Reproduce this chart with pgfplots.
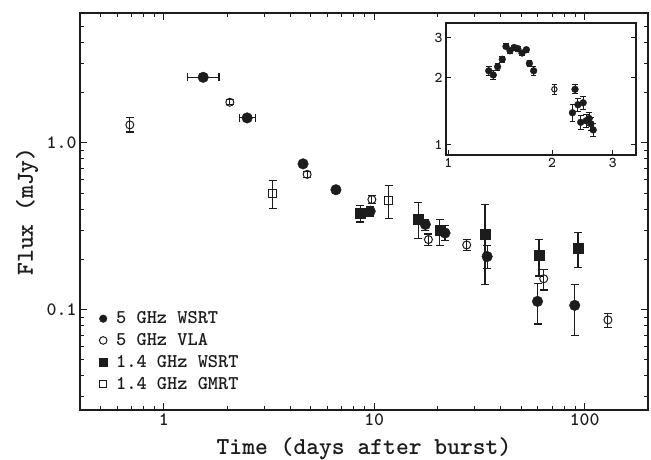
\documentclass[border=0pt]{standalone}
\usepackage{pgfplots}
\pgfplotsset{compat=1.18}
\definecolor{ink}{HTML}{1C1C1C}
\begin{document}
\begin{tikzpicture}
\useasboundingbox (-80bp,-50bp) rectangle (571bp,410bp);
\begin{axis}[
  name=main, at={(0,0)}, anchor=south west,
  xmode=log, ymode=log, scale only axis, width=568bp, height=397bp,
  xmin=0.4, xmax=200, ymin=0.025, ymax=6,
  xtick={1,10,100}, xticklabels={1,10,100},
  ytick={0.1,1}, yticklabels={0.1,1.0},
  minor xtick={0.4,0.5,0.6,0.7,0.8,0.9,2,3,4,5,6,7,8,9,20,30,40,50,60,70,80,90,200},
  minor ytick={0.03,0.04,0.05,0.06,0.07,0.08,0.09,0.2,0.3,0.4,0.5,0.6,0.7,0.8,0.9,2,3,4,5,6},
  tick align=inside, major tick length=7bp, minor tick length=4bp,
  axis line style={line width=1.6bp, ink},
  every tick/.style={line width=1bp, ink},
  ticklabel style={font=\fontsize{19}{19}\selectfont\ttfamily\bfseries, text=ink},
  xlabel={Time (days after burst)}, ylabel={Flux (mJy)},
  label style={font=\fontsize{24.5}{28}\selectfont\ttfamily\bfseries, text=ink},
  xlabel style={at={(axis description cs:0.5,0)}, anchor=base, yshift=-44bp},
  ylabel style={at={(axis description cs:0,0.5)}, anchor=base, yshift=47bp},
  legend image code/.code={\draw[#1, mark size=3.8bp] plot coordinates {(0bp,0bp)}; \path[draw=none,fill=none] (-4bp,0bp) rectangle (11bp,0.1bp);},
  legend style={draw=none, fill=none, at={(axis description cs:0,0)}, anchor=south west,
    xshift=19bp, yshift=17bp, font=\fontsize{19.5}{21.7}\selectfont\ttfamily\bfseries, text=ink,
    row sep=4.2bp, inner sep=0pt},
  legend cell align=left,
  error bars/error bar style={line width=1.1bp, ink},
  error bars/error mark options={rotate=90, line width=1.1bp, ink, mark size=4bp},
]
\addlegendimage{only marks, mark=*, ink, mark options={fill=ink}}
\addlegendentry{5 GHz WSRT}
\addlegendimage{only marks, mark=o, ink, line width=1bp}
\addlegendentry{5 GHz VLA}
\addlegendimage{only marks, mark=square*, ink, mark options={fill=ink}}
\addlegendentry{1.4 GHz WSRT}
\addlegendimage{only marks, mark=square, ink, line width=1bp}
\addlegendentry{1.4 GHz GMRT}

% 1.4 GHz WSRT
\addplot[forget plot, only marks, mark=square*, mark size=5bp, ink, mark options={fill=ink},
  error bars/.cd, y dir=both, y explicit] coordinates {
  (8.58,0.380) += (0,0.041) -= (0,0.045)
  (16.2,0.350) += (0,0.087) -= (0,0.084)
  (20.5,0.298) += (0,0.049) -= (0,0.056)
  (33.6,0.284) += (0,0.142) -= (0,0.143)
  (60.7,0.211) += (0,0.051) -= (0,0.052)
  (93.0,0.234) += (0,0.057) -= (0,0.055)
};
% 1.4 GHz GMRT
\addplot[forget plot, only marks, mark=square, mark size=4bp, ink, line width=1bp,
  error bars/.cd, y dir=both, y explicit] coordinates {
  (3.29,0.500) += (0,0.094) -= (0,0.098)
  (11.7,0.451) += (0,0.104) -= (0,0.101)
};
% 5 GHz VLA
\addplot[forget plot, only marks, mark=o, mark size=4bp, ink, line width=1bp,
  error bars/.cd, y dir=both, y explicit] coordinates {
  (0.69,1.28) += (0,0.13) -= (0,0.12)
  (2.06,1.75) += (0,0.06) -= (0,0.06)
  (4.8,0.647) += (0,0.03) -= (0,0.03)
  (9.75,0.457) += (0,0.026) -= (0,0.026)
  (18.1,0.263) += (0,0.021) -= (0,0.021)
  (27.5,0.244) += (0,0.018) -= (0,0.017)
  (63.9,0.153) += (0,0.021) -= (0,0.022)
  (129,0.0867) += (0,0.0076) -= (0,0.0082)
};
% 5 GHz WSRT
\addplot[forget plot, only marks, mark=*, mark size=5.3bp, ink, mark options={fill=ink},
  error bars/.cd, x dir=both, x explicit, y dir=both, y explicit] coordinates {
  (1.54,2.47) += (0.29,0) -= (0.245,0)
  (2.49,1.41) += (0.24,0) -= (0.19,0)
  (4.59,0.748) += (0,0.02) -= (0,0.02)
  (6.58,0.523) += (0,0.025) -= (0,0.025)
  (9.57,0.389) += (0,0.025) -= (0,0.025)
  (17.5,0.324) += (0,0.025) -= (0,0.025)
  (21.7,0.288) += (0,0.031) -= (0,0.029)
  (34.4,0.208) += (0,0.034) -= (0,0.032)
  (59.7,0.112) += (0,0.031) -= (0,0.030)
  (89.7,0.106) += (0,0.035) -= (0,0.036)
};
\end{axis}

\begin{axis}[
  at={(366bp,255bp)}, anchor=south west,
  xmode=log, ymode=log, scale only axis, width=190bp, height=132bp,
  xmin=0.985, xmax=3.5, ymin=0.9, ymax=3.5,
  xtick={1,2,3}, xticklabels={1,2,3},
  ytick={1,2,3}, yticklabels={1,2,3},
  xminorticks=false, yminorticks=false,
  xtick pos=bottom, ytick pos=both,
  tick align=inside, major tick length=5bp,
  axis line style={line width=1.6bp, ink},
  every tick/.style={line width=1bp, ink},
  ticklabel style={font=\fontsize{15}{15}\selectfont\ttfamily\bfseries, text=ink},
  axis background/.style={fill=white},
  error bars/error bar style={line width=1bp, ink},
  error bars/error mark options={rotate=90, line width=1bp, ink, mark size=2.8bp},
]
\addplot[only marks, mark=*, mark size=3.4bp, ink, mark options={fill=ink},
  error bars/.cd, y dir=both, y explicit] coordinates {
  (1.31,2.14) +- (0,0.10)
  (1.35,2.05) +- (0,0.10)
  (1.39,2.23) +- (0,0.08)
  (1.434,2.41) +- (0,0.08)
  (1.47,2.75) +- (0,0.07)
  (1.51,2.63) +- (0,0.07)
  (1.553,2.72) +- (0,0.07)
  (1.59,2.69) +- (0,0.07)
  (1.636,2.57) +- (0,0.07)
  (1.684,2.66) +- (0,0.07)
  (1.718,2.31) +- (0,0.08)
  (1.768,2.14) +- (0,0.10)
  (2.33,1.77) +- (0,0.08)
  (2.29,1.39) +- (0,0.12)
  (2.375,1.51) +- (0,0.10)
  (2.46,1.54) +- (0,0.10)
  (2.42,1.26) +- (0,0.09)
  (2.51,1.28) +- (0,0.09)
  (2.56,1.31) +- (0,0.09)
  (2.59,1.24) +- (0,0.08)
  (2.63,1.165) +- (0,0.08)
};
\addplot[only marks, mark=o, mark size=2.7bp, ink, line width=1bp,
  error bars/.cd, y dir=both, y explicit] coordinates {
  (2.03,1.77) +- (0,0.09)
};
\end{axis}
\end{tikzpicture}
\end{document}
